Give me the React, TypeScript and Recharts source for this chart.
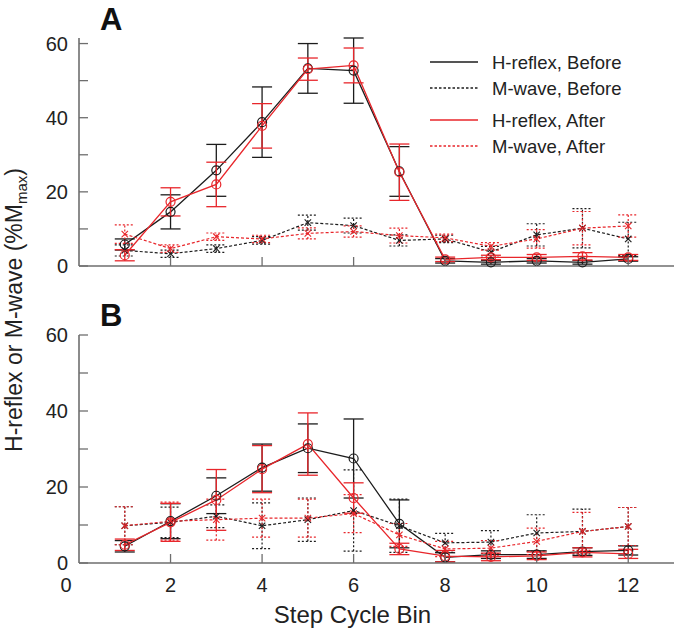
import React from 'react';
import { LineChart, Line, XAxis, YAxis, ErrorBar, Legend } from 'recharts';

const bins = [1, 2, 3, 4, 5, 6, 7, 8, 9, 10, 11, 12];
const xTicks = [2, 4, 6, 8, 10, 12];
const xTicksB = [0, 2, 4, 6, 8, 10, 12];
const yTicks = [0, 10, 20, 30, 40, 50, 60];
const yLabels = [0, 20, 40, 60];
const seriesNames = ['H-reflex, Before', 'M-wave, Before', 'H-reflex, After', 'M-wave, After'];

// Panel A
const aHBefore = [5.8, 14.6, 25.8, 38.8, 53.3, 52.7, 25.5, 1.4, 1.0, 1.4, 1.0, 1.9];
const aHBeforeErr = [1.5, 4.6, 7.0, 9.5, 6.7, 8.8, 6.7, 0.6, 0.5, 0.6, 0.5, 0.6];
const aMBefore = [4.2, 3.3, 4.7, 6.9, 11.7, 10.9, 6.9, 7.3, 3.8, 8.4, 10.2, 7.3];
const aMBeforeErr = [1.5, 1.0, 1.0, 1.0, 2.0, 2.0, 1.5, 1.0, 1.5, 3.0, 5.3, 4.5];
const aHAfter = [2.9, 17.3, 22.0, 37.8, 53.1, 54.1, 25.3, 1.8, 2.3, 2.3, 2.6, 2.3];
const aHAfterErr = [1.5, 3.8, 6.0, 6.0, 3.0, 4.7, 7.6, 0.6, 0.6, 0.8, 1.0, 0.8];
const aMAfter = [8.6, 4.7, 7.9, 7.3, 8.8, 9.3, 8.2, 7.6, 5.3, 7.3, 10.2, 10.8];
const aMAfterErr = [2.5, 1.0, 1.0, 1.0, 1.5, 1.5, 2.0, 1.0, 1.0, 2.5, 4.5, 3.0];

// Panel B
const bHBefore = [4.4, 11.0, 17.7, 25.1, 30.2, 27.5, 10.3, 1.5, 2.2, 2.2, 3.0, 3.3];
const bHBeforeErr = [1.5, 4.6, 4.7, 6.2, 6.4, 10.4, 6.3, 1.2, 1.0, 1.0, 1.0, 1.2];
const bMBefore = [9.8, 10.7, 12.3, 9.8, 11.4, 13.8, 9.8, 5.3, 5.5, 7.9, 8.3, 9.6];
const bMBeforeErr = [5.0, 4.0, 3.0, 6.0, 5.7, 10.7, 7.0, 2.5, 3.0, 4.8, 5.9, 5.0];
const bHAfter = [4.8, 10.7, 16.6, 24.7, 31.3, 17.1, 3.7, 1.8, 1.6, 1.9, 2.8, 2.4];
const bHAfterErr = [1.5, 5.0, 8.0, 6.2, 8.2, 4.0, 1.5, 1.5, 1.0, 1.0, 1.2, 1.2];
const bMAfter = [9.8, 11.0, 11.4, 11.8, 11.8, 13.0, 7.4, 3.7, 3.9, 5.7, 8.3, 9.6];
const bMAfterErr = [5.0, 5.0, 5.4, 5.0, 5.0, 5.0, 3.0, 2.0, 2.0, 3.5, 5.0, 5.0];

const FONT = '"Liberation Sans", Arial, Helvetica, sans-serif';
const BLACK = '#1c1c1c';
const RED = '#e8262b';
const AXIS = '#6e6e6e';

const buildRows = (hb: number[], hbE: number[], mb: number[], mbE: number[], ha: number[], haE: number[], ma: number[], maE: number[]) =>
  bins.map((bin, i) => ({
    bin,
    hb: hb[i], hbErr: hbE[i],
    mb: mb[i], mbErr: mbE[i],
    ha: ha[i], haErr: haE[i],
    ma: ma[i], maErr: maE[i],
  }));

const dataA = buildRows(aHBefore, aHBeforeErr, aMBefore, aMBeforeErr, aHAfter, aHAfterErr, aMAfter, aMAfterErr);
const dataB = buildRows(bHBefore, bHBeforeErr, bMBefore, bMBeforeErr, bHAfter, bHAfterErr, bMAfter, bMAfterErr);

const makeXTick = (showLabels: boolean) => (props: any) => {
  const { x, y, payload } = props;
  const v = payload.value;
  return (
    <g>
      {v !== 0 && <line x1={x} y1={y} x2={x} y2={y - 9} stroke={AXIS} strokeWidth={1.3} />}
      {showLabels && (
        <text x={v === 0 ? x - 13 : x} y={y + 29} textAnchor="middle" fontSize={20} fill="#222" fontFamily={FONT}>
          {v}
        </text>
      )}
    </g>
  );
};

const YTick = (props: any) => {
  const { x, y, payload } = props;
  const v = payload.value;
  return (
    <g>
      <line x1={x} y1={y} x2={x + 9} y2={y} stroke={AXIS} strokeWidth={1.3} />
      {yLabels.includes(v) && (
        <text x={x - 11} y={y + 7} textAnchor="end" fontSize={20} fill="#222" fontFamily={FONT}>
          {v}
        </text>
      )}
    </g>
  );
};

const XDot = (props: any) => {
  const { cx, cy, stroke } = props;
  if (cx == null || cy == null) return <g />;
  const s = 3.2;
  return (
    <g>
      <line x1={cx - s} y1={cy - s} x2={cx + s} y2={cy + s} stroke={stroke} strokeWidth={1.1} />
      <line x1={cx - s} y1={cy + s} x2={cx + s} y2={cy - s} stroke={stroke} strokeWidth={1.1} />
    </g>
  );
};

const legendRowY = [14, 40, 72, 98];

const LegendBox = (props: any) => {
  const items = [...(props.payload || [])].sort(
    (a: any, b: any) => seriesNames.indexOf(a.value) - seriesNames.indexOf(b.value)
  );
  return (
    <svg width={245} height={115}>
      {items.map((item: any, i: number) => (
        <g key={item.value}>
          <line
            x1={2}
            x2={50}
            y1={legendRowY[i]}
            y2={legendRowY[i]}
            stroke={item.color}
            strokeWidth={1.3}
            strokeDasharray={item.value.startsWith('M-wave') ? '2.5 2' : undefined}
          />
          <text x={64} y={legendRowY[i] + 6.5} fontSize={18.5} fill="#222" fontFamily={FONT}>
            {item.value}
          </text>
        </g>
      ))}
    </svg>
  );
};

const Panel = ({ data, top, height, marginTop, axisHeight, showXLabels, legend }: any) => (
  <div style={{ position: 'absolute', left: 0, top }}>
    <LineChart width={675} height={height} data={data} margin={{ top: marginTop, right: 1, left: 0, bottom: 0 }}>
      <XAxis
        dataKey="bin"
        type="number"
        domain={[0, 13]}
        ticks={showXLabels ? xTicksB : xTicks}
        interval={0}
        height={axisHeight}
        tickSize={0}
        tickMargin={0}
        tickLine={false}
        axisLine={{ stroke: AXIS, strokeWidth: 1.6 }}
        tick={makeXTick(showXLabels)}
        label={
          showXLabels
            ? { value: 'Step Cycle Bin', position: 'insideBottom', offset: 11, dx: -24, fontSize: 24, fill: '#222', fontFamily: FONT }
            : undefined
        }
      />
      <YAxis
        type="number"
        domain={[0, 60]}
        ticks={yTicks}
        interval={0}
        width={79}
        tickSize={0}
        tickMargin={0}
        tickLine={false}
        axisLine={{ stroke: AXIS, strokeWidth: 1.6 }}
        tick={YTick}
      />
      {legend && (
        <Legend
          layout="vertical"
          align="center"
          verticalAlign="middle"
          content={LegendBox}
          wrapperStyle={{ left: 428, top: 48, width: 245, height: 115 }}
        />
      )}
      <Line name={seriesNames[0]} dataKey="hb" stroke={BLACK} strokeWidth={1.3} dot={{ r: 4.5, fill: 'none', stroke: BLACK, strokeWidth: 1.2 }} isAnimationActive={false}>
        <ErrorBar dataKey="hbErr" width={10} stroke={BLACK} strokeWidth={1.3} direction="y" />
      </Line>
      <Line name={seriesNames[1]} dataKey="mb" stroke={BLACK} strokeWidth={1.2} strokeDasharray="3 2" dot={<XDot />} isAnimationActive={false}>
        <ErrorBar dataKey="mbErr" width={10} stroke={BLACK} strokeWidth={1.2} strokeDasharray="2 2" direction="y" />
      </Line>
      <Line name={seriesNames[2]} dataKey="ha" stroke={RED} strokeWidth={1.3} dot={{ r: 4.5, fill: 'none', stroke: RED, strokeWidth: 1.2 }} isAnimationActive={false}>
        <ErrorBar dataKey="haErr" width={10} stroke={RED} strokeWidth={1.3} direction="y" />
      </Line>
      <Line name={seriesNames[3]} dataKey="ma" stroke={RED} strokeWidth={1.2} strokeDasharray="3 2" dot={<XDot />} isAnimationActive={false}>
        <ErrorBar dataKey="maErr" width={10} stroke={RED} strokeWidth={1.2} strokeDasharray="2 2" direction="y" />
      </Line>
    </LineChart>
  </div>
);

export default function App() {
  return (
    <div style={{ position: 'absolute', left: 0, top: 0, width: 675, height: 634, background: '#fff', fontFamily: FONT }}>
      <Panel data={dataA} top={0} height={300} marginTop={38} axisHeight={34} showXLabels={false} legend />
      <Panel data={dataB} top={300} height={334} marginTop={35} axisHeight={71} showXLabels legend={false} />
      <svg width={675} height={634} style={{ position: 'absolute', left: 0, top: 0, pointerEvents: 'none' }}>
        <text x={100} y={30} fontSize={31} fontWeight="bold" fill="#111" fontFamily={FONT}>A</text>
        <text x={100} y={326} fontSize={31} fontWeight="bold" fill="#111" fontFamily={FONT}>B</text>
        <text transform="translate(22,310) rotate(-90)" textAnchor="middle" fontSize={23} fill="#222" fontFamily={FONT}>
          H-reflex or M-wave (%M
          <tspan fontSize={15} dy={5}>max</tspan>
          <tspan dy={-5}>)</tspan>
        </text>
      </svg>
    </div>
  );
}
